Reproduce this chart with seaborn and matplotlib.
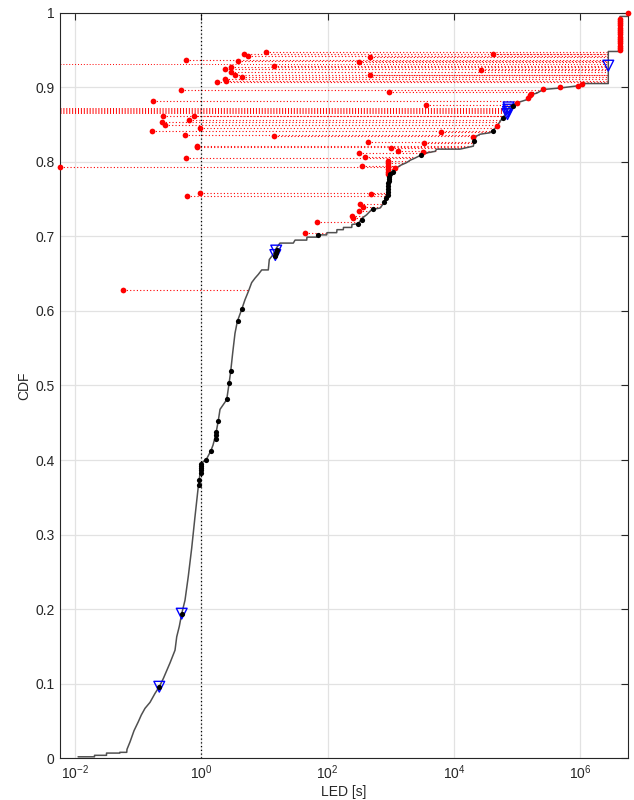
import numpy as np
import matplotlib
matplotlib.use("Agg")
import matplotlib.pyplot as plt
from matplotlib.ticker import NullLocator
import seaborn as sns

# ---------------- data (LED given as log10 seconds) ----------------
curve_log_led = [-1.95, -1.69, -1.69, -1.50, -1.50, -1.29, -1.29, -1.18, -1.176, -1.128,
                 -1.065, -0.997, -0.95, -0.891, -0.812, -0.733, -0.665, -0.601, -0.495, -0.416,
                 -0.389, -0.348, -0.310, -0.258, -0.206, -0.152, -0.100, -0.047, -0.032, -0.009,
                 0.027, 0.074, 0.149, 0.185, 0.228, 0.269, 0.296, 0.402, 0.438, 0.465,
                 0.497, 0.533, 0.570, 0.639, 0.691, 0.744, 0.797, 0.850, 0.902, 0.956,
                 1.060, 1.076, 1.139, 1.193, 1.245, 1.456, 1.483, 1.668, 1.672, 1.826,
                 1.831, 1.984, 1.989, 2.142, 2.147, 2.247, 2.250, 2.380, 2.384, 2.484,
                 2.538, 2.617, 2.696, 2.828, 2.891, 2.915, 2.949, 2.959, 2.986, 3.038,
                 3.092, 3.144, 3.250, 3.302, 3.381, 3.476, 3.566, 3.698, 3.725, 4.093,
                 4.304, 4.320, 4.347, 4.410, 4.568, 4.611, 4.674, 4.726, 4.769, 4.832,
                 4.858, 4.937, 4.991, 5.174, 5.201, 5.307, 5.411, 5.676, 5.965, 6.024,
                 6.440, 6.440, 6.625, 6.625, 6.747, 6.747]
curve_cdf = [0.002, 0.002, 0.004, 0.004, 0.007, 0.007, 0.008, 0.008, 0.012, 0.022,
             0.037, 0.049, 0.058, 0.067, 0.075, 0.087, 0.096, 0.107, 0.128, 0.145,
             0.163, 0.177, 0.194, 0.212, 0.244, 0.282, 0.324, 0.365, 0.374, 0.391,
             0.398, 0.400, 0.412, 0.420, 0.434, 0.453, 0.468, 0.481, 0.502, 0.519,
             0.544, 0.570, 0.586, 0.602, 0.615, 0.626, 0.638, 0.644, 0.649, 0.655,
             0.655, 0.669, 0.676, 0.685, 0.691, 0.691, 0.695, 0.695, 0.699, 0.699,
             0.702, 0.702, 0.705, 0.705, 0.709, 0.709, 0.712, 0.712, 0.716, 0.717,
             0.724, 0.729, 0.736, 0.738, 0.745, 0.752, 0.761, 0.772, 0.783, 0.787,
             0.792, 0.795, 0.799, 0.802, 0.805, 0.809, 0.812, 0.814, 0.817, 0.817,
             0.821, 0.828, 0.834, 0.837, 0.839, 0.842, 0.847, 0.854, 0.859, 0.866,
             0.872, 0.877, 0.879, 0.884, 0.890, 0.892, 0.897, 0.899, 0.902, 0.905,
             0.905, 0.948, 0.948, 0.995, 0.995, 1.000]

black_log_led = [-0.665, -0.310, -0.040, -0.032, -0.009, -0.007, -0.005, -0.003, 0.003,
                 0.074, 0.149, 0.228, 0.228, 0.235, 0.269, 0.402, 0.443, 0.465, 0.585, 0.639,
                 1.171, 1.182, 1.190, 1.842, 2.484, 2.538, 2.722, 2.891, 2.922,
                 2.950, 2.952, 2.955, 2.957, 2.960, 2.963, 2.966, 2.972, 2.980,
                 3.033, 3.476, 4.320, 4.611, 4.769, 4.937]
black_cdf = [0.096, 0.194, 0.366, 0.373, 0.383, 0.386, 0.389, 0.392, 0.395,
             0.400, 0.412, 0.428, 0.433, 0.438, 0.453, 0.482, 0.503, 0.520, 0.587, 0.602,
             0.674, 0.678, 0.682, 0.702, 0.717, 0.722, 0.737, 0.746, 0.752,
             0.756, 0.760, 0.764, 0.768, 0.771, 0.774, 0.777, 0.780, 0.783,
             0.787, 0.809, 0.828, 0.842, 0.859, 0.875]

red_top_log = [1.030, 0.676, 0.736, 2.671, 4.620, -0.239, 0.587, 2.495, 0.470, 1.149,
               0.369, 0.470, 4.426, 0.528, 2.671, 0.369, 0.392, 0.647, 0.252]
red_top_cdf = [0.947, 0.944, 0.942, 0.940, 0.945, 0.937, 0.935, 0.934, 0.927, 0.929,
               0.924, 0.920, 0.923, 0.917, 0.916, 0.911, 0.909, 0.914, 0.907]
red_mid_log = [-0.328, 2.967, -0.758, 3.551, -0.120, -0.604, -0.191, -0.623, -0.576, -0.021,
               -0.782, -0.252, 1.149, 3.788, 2.636, 3.528, -0.074, -0.062, 2.997, 3.114,
               2.495, 2.595, -0.239, 2.536, -2.236]
red_mid_cdf = [0.896, 0.894, 0.881, 0.876, 0.862, 0.861, 0.856, 0.853, 0.850, 0.846,
               0.841, 0.836, 0.834, 0.840, 0.826, 0.825, 0.821, 0.820, 0.818, 0.815,
               0.812, 0.806, 0.805, 0.795, 0.793]
red_low_log = [-0.021, -0.222, 2.684, 2.506, 2.554, 2.495, 2.388, 2.400, 1.827, 1.639, -1.242]
red_low_cdf = [0.758, 0.754, 0.757, 0.744, 0.740, 0.734, 0.727, 0.725, 0.719, 0.704, 0.628]
red_near_log = [2.949, 2.949, 2.952, 2.955, 2.958, 2.960, 3.066, 3.513, 4.304, 4.671,
                4.991, 5.174, 5.201, 5.215, 5.411, 5.676, 5.965, 6.030]
red_near_cdf = [0.801, 0.798, 0.795, 0.790, 0.786, 0.783, 0.792, 0.813, 0.833, 0.848,
                0.879, 0.886, 0.889, 0.891, 0.897, 0.900, 0.902, 0.904]
red_col_log = [6.625, 6.625, 6.625, 6.625, 6.625, 6.625, 6.625, 6.625, 6.625, 6.625,
               6.625, 6.625, 6.625, 6.625, 6.625, 6.747]
red_col_cdf = [0.950, 0.953, 0.956, 0.959, 0.962, 0.965, 0.968, 0.971, 0.974, 0.977,
               0.980, 0.983, 0.986, 0.989, 0.992, 1.000]

# connectors whose red point lies beyond the left axis limit
edge_cdf = [0.931, 0.865, 0.8665, 0.868, 0.8695, 0.871, 0.8725]

tri_log_led = [-0.665, -0.310, 1.171, 1.185, 4.845, 4.852, 4.858, 4.862, 6.440]
tri_cdf = [0.096, 0.194, 0.675, 0.681, 0.864, 0.867, 0.870, 0.873, 0.929]

xtick_exp = [-2, 0, 2, 4, 6]
ytick_vals = [0, 0.1, 0.2, 0.3, 0.4, 0.5, 0.6, 0.7, 0.8, 0.9, 1]
ytick_labels = ["0", "0.1", "0.2", "0.3", "0.4", "0.5", "0.6", "0.7", "0.8", "0.9", "1"]

# ---------------- style ----------------
sns.set_style("white")
plt.rcParams['font.family'] = ['Liberation Sans', 'DejaVu Sans']
plt.rcParams['mathtext.default'] = 'regular'
txt = '#262626'

fig = plt.figure(figsize=(6.34, 8), dpi=100)
ax = fig.add_axes([60 / 634, 41.7 / 800, 567.7 / 634, 745.6 / 800])
ax.set_xscale('log')

red_log = np.array(red_top_log + red_mid_log + red_low_log + red_near_log + red_col_log)
red_cdf = np.array(red_top_cdf + red_mid_cdf + red_low_cdf + red_near_cdf + red_col_cdf)
xlim_log = (red_log.min(), red_log.max())

# connectors: from red point to the ECDF at the same CDF level
c_log = np.array(curve_log_led)
c_cdf = np.array(curve_cdf)
end_red = 10 ** np.interp(red_cdf, c_cdf, c_log)
end_edge = 10 ** np.interp(edge_cdf, c_cdf, c_log)
ax.hlines(red_cdf, 10 ** red_log, end_red, colors='red', linestyles=(0, (1, 2)),
          linewidth=0.8, zorder=2)
ax.hlines(edge_cdf, 10 ** xlim_log[0], end_edge, colors='red', linestyles=(0, (1, 2)),
          linewidth=0.7, zorder=2)

# ECDF curve
sns.lineplot(x=10 ** c_log, y=c_cdf, sort=False, estimator=None, color='#505050',
             linewidth=1.1, ax=ax, zorder=3)

ax.axvline(1, color='black', linestyle=(0, (1, 2)), linewidth=0.9, zorder=2.5)

sns.scatterplot(x=10 ** red_log, y=red_cdf, color='red', s=17, linewidth=0,
                ax=ax, zorder=4, clip_on=False)
# open blue triangles
ax.scatter(10 ** np.array(tri_log_led), tri_cdf, marker='v', s=60,
           facecolors='none', edgecolors='blue', linewidths=1.0, zorder=5)
sns.scatterplot(x=10 ** np.array(black_log_led), y=black_cdf, color='black', s=14,
                linewidth=0, ax=ax, zorder=6)

ax.set_xlim(10 ** xlim_log[0], 10 ** xlim_log[1])
ax.set_ylim(0, 1)
ax.set_xticks([10.0 ** e for e in xtick_exp])
ax.set_xticklabels([f"$10^{{{e}}}$" for e in xtick_exp])
ax.xaxis.set_minor_locator(NullLocator())
ax.set_yticks(ytick_vals)
ax.set_yticklabels(ytick_labels)

ax.grid(True, color='#e2e2e2', linewidth=0.9)
ax.set_axisbelow(True)
for sp in ax.spines.values():
    sp.set_visible(True)
    sp.set_color(txt)
    sp.set_linewidth(0.8)
ax.tick_params(direction='in', top=True, right=True, length=5, width=0.8,
               colors=txt, labelsize=10, pad=4)
ax.set_xlabel('LED [s]', fontsize=10, color=txt, labelpad=2)
ax.set_ylabel('CDF', fontsize=10, color=txt, labelpad=3)

fig.savefig('out.png', dpi=100)
